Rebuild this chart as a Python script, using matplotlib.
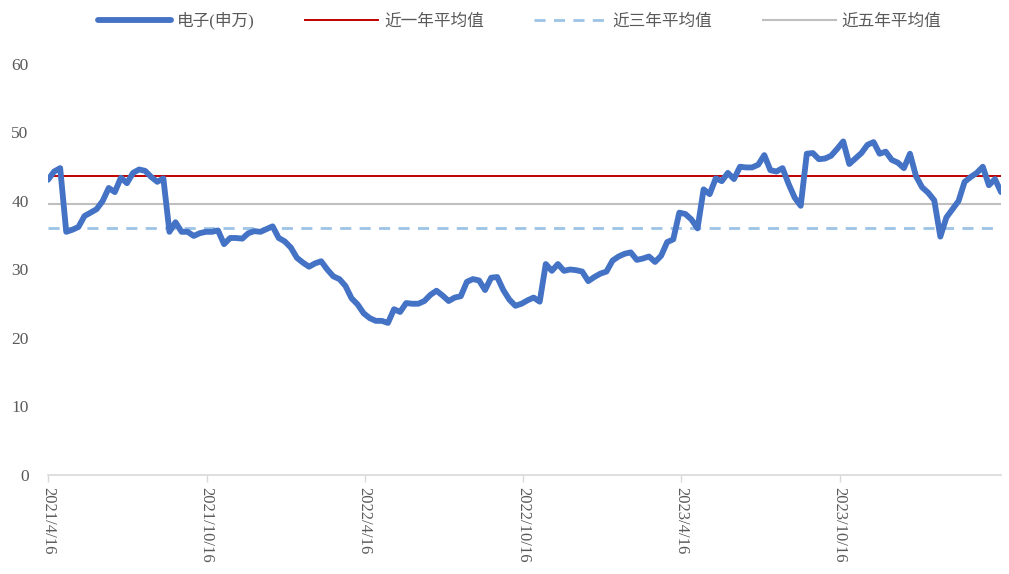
import matplotlib
matplotlib.use("Agg")
import matplotlib.pyplot as plt
import pandas as pd

plt.rcParams['font.family'] = ['Liberation Serif', 'Noto Sans CJK SC', 'DejaVu Sans']

# weekly valuation of the electronics index (SW), from 2021/4/16
start = '2021-04-16'
pe = [
    43.1, 44.3, 44.8, 35.5, 35.8, 36.2, 37.8, 38.3, 38.8, 40.0,
    41.9, 41.3, 43.4, 42.6, 44.1, 44.6, 44.4, 43.5, 42.8, 43.3,
    35.5, 36.9, 35.5, 35.5, 34.9, 35.3, 35.5, 35.5, 35.7, 33.7,
    34.6, 34.6, 34.5, 35.3, 35.6, 35.5, 35.9, 36.3, 34.6, 34.1,
    33.2, 31.7, 31.0, 30.4, 30.9, 31.2, 30.0, 29.0, 28.6, 27.6,
    25.8, 24.9, 23.6, 22.9, 22.5, 22.5, 22.2, 24.2, 23.8, 25.1,
    25.0, 25.0, 25.4, 26.3, 26.9, 26.2, 25.4, 25.9, 26.1, 28.2,
    28.6, 28.4, 27.0, 28.8, 28.9, 27.0, 25.6, 24.7, 25.0, 25.5,
    25.9, 25.3, 30.8, 29.8, 30.8, 29.8, 30.0, 29.9, 29.7, 28.3,
    28.9, 29.4, 29.7, 31.3, 31.9, 32.3, 32.5, 31.4, 31.6, 31.9,
    31.1, 32.0, 34.0, 34.4, 38.3, 38.1, 37.3, 36.0, 41.7, 41.0,
    43.3, 42.9, 44.1, 43.2, 45.0, 44.9, 44.9, 45.3, 46.7, 44.5,
    44.3, 44.8, 42.5, 40.5, 39.3, 46.9, 47.0, 46.1, 46.2, 46.6,
    47.6, 48.7, 45.4, 46.2, 47.0, 48.2, 48.6, 46.9, 47.2, 46.0,
    45.6, 44.8, 46.9, 43.6, 42.0, 41.2, 40.1, 34.8, 37.6, 38.8,
    40.0, 42.8, 43.5, 44.1, 45.0, 42.3, 43.2, 41.3,
]
avg_1y = 43.65
avg_3y = 36.0
avg_5y = 39.6

tick_dates = ['2021-04-16', '2021-10-16', '2022-04-16',
              '2022-10-16', '2023-04-16', '2023-10-16']
tick_labels = ['2021/4/16', '2021/10/16', '2022/4/16',
               '2022/10/16', '2023/4/16', '2023/10/16']

dates = pd.date_range(start, periods=len(pe), freq='7D')

fig = plt.figure(figsize=(10.09, 5.74), dpi=100)
ax = fig.add_axes([0.0476, 0.1725, 0.9445, 0.716])

ax.plot(dates, pe, color='#4472C4', lw=4.2, solid_joinstyle='round',
        solid_capstyle='round', label='电子(申万)', zorder=4)
ax.axhline(avg_1y, color='#C00000', lw=1.4, label='近一年平均值', zorder=3)
ax.axhline(avg_3y, color='#9DC3E6', lw=2, ls=(0, (4, 3)),
           label='近三年平均值', zorder=2)
ax.axhline(avg_5y, color='#BFBFBF', lw=1.5, label='近五年平均值', zorder=2)

ax.set_xlim(dates[0], dates[-1])
ax.set_ylim(0, 60)
ax.set_yticks(range(0, 61, 10))

ax.set_xticks(pd.to_datetime(tick_dates))
ax.set_xticklabels(tick_labels, rotation=-90, va='top', ha='center')

for s in ['top', 'right', 'left']:
    ax.spines[s].set_visible(False)
ax.spines['bottom'].set_color('#D9D9D9')
ax.spines['bottom'].set_linewidth(1.2)
ax.tick_params(axis='x', colors='#595959', length=5, width=1,
               labelsize=12, pad=4)
ax.tick_params(axis='x', color='#D9D9D9')
ax.tick_params(axis='y', length=0, labelsize=12.5, labelcolor='#595959', pad=14)

fig.legend(loc='upper center', bbox_to_anchor=(0.515, 1.005), ncol=4,
           frameon=False, fontsize=12, handlelength=4.4, handletextpad=0.35,
           columnspacing=3.0, labelcolor='#595959')

fig.savefig('out.png', dpi=100)
